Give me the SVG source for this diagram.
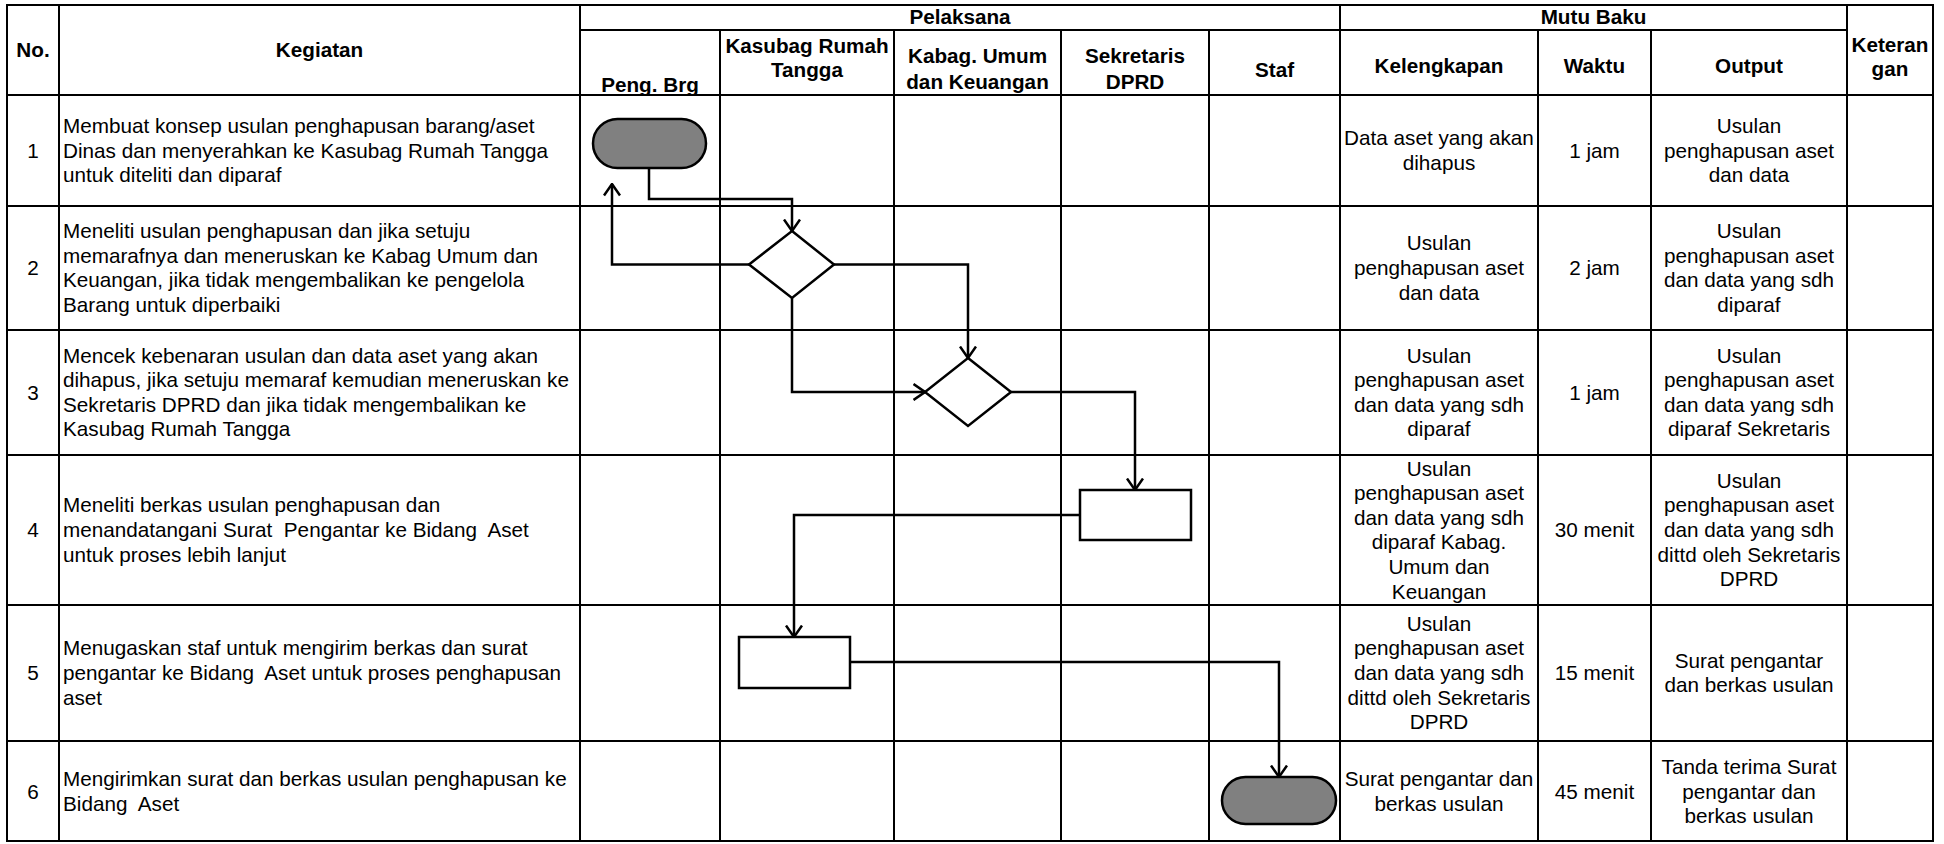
<svg xmlns="http://www.w3.org/2000/svg" width="1944" height="844" viewBox="0 0 1944 844">
<style>
  text { font-family: "Liberation Sans", Arial, sans-serif; font-size: 20.7px; fill: #000; }
  .h { font-weight: bold; text-anchor: middle; }
  .c { text-anchor: middle; }
  .grid { stroke: #000; stroke-width: 2; fill: none; }
  .conn { stroke: #000; stroke-width: 2.5; fill: none; }
  .term { fill: #808080; stroke: #000; stroke-width: 2.5; }
  .proc { fill: #fff; stroke: #000; stroke-width: 2.5; }
</style>
<defs>
  <marker id="arr" viewBox="0 0 14 18" refX="12.5" refY="9" markerWidth="14" markerHeight="18" markerUnits="userSpaceOnUse" orient="auto">
    <path d="M1,1 L12.5,9 L1,17" fill="none" stroke="#000" stroke-width="2.5"/>
  </marker>
</defs>
<rect width="1944" height="844" fill="#fff"/>

<g id="table">
  <rect class="grid" x="7" y="5" width="1926" height="836" stroke-width="2.5"/>
  <path class="grid" d="M59,5 V841 M580,5 V841 M1340,5 V841 M1847,5 V841
    M720,30 V841 M894,30 V841 M1061,30 V841 M1209,30 V841 M1538,30 V841 M1651,30 V841
    M580,30 H1847
    M7,95 H1933 M7,206 H1933 M7,330 H1933 M7,455 H1933 M7,605 H1933 M7,741 H1933"/>
</g>

<g id="header">
  <text class="h" x="33" y="57">No.</text>
  <text class="h" x="319.5" y="57">Kegiatan</text>
  <text class="h" x="960" y="24">Pelaksana</text>
  <text class="h" x="1593.5" y="24">Mutu Baku</text>
  <text class="h" x="650" y="92">Peng. Brg</text>
  <text class="h" x="807" y="53">Kasubag Rumah</text>
  <text class="h" x="807" y="77">Tangga</text>
  <text class="h" x="977.5" y="63">Kabag. Umum</text>
  <text class="h" x="977.5" y="89">dan Keuangan</text>
  <text class="h" x="1135" y="63">Sekretaris</text>
  <text class="h" x="1135" y="89">DPRD</text>
  <text class="h" x="1274.5" y="77">Staf</text>
  <text class="h" x="1439" y="73">Kelengkapan</text>
  <text class="h" x="1594.5" y="73">Waktu</text>
  <text class="h" x="1749" y="73">Output</text>
  <text class="h" x="1890" y="52">Keteran</text>
  <text class="h" x="1890" y="76">gan</text>
</g>

<g id="row1">
  <text class="c" x="33" y="157.5">1</text>
  <text x="63" y="133">Membuat konsep usulan penghapusan barang/aset</text>
  <text x="63" y="158">Dinas dan menyerahkan ke Kasubag Rumah Tangga</text>
  <text x="63" y="182">untuk diteliti dan diparaf</text>
  <text class="c" x="1439" y="145">Data aset yang akan</text>
  <text class="c" x="1439" y="170">dihapus</text>
  <text class="c" x="1594.5" y="157.5">1 jam</text>
  <text class="c" x="1749" y="133">Usulan</text>
  <text class="c" x="1749" y="158">penghapusan aset</text>
  <text class="c" x="1749" y="182">dan data</text>
</g>

<g id="row2">
  <text class="c" x="33" y="275">2</text>
  <text x="63" y="238">Meneliti usulan penghapusan dan jika setuju</text>
  <text x="63" y="263">memarafnya dan meneruskan ke Kabag Umum dan</text>
  <text x="63" y="287">Keuangan, jika tidak mengembalikan ke pengelola</text>
  <text x="63" y="312">Barang untuk diperbaiki</text>
  <text class="c" x="1439" y="250">Usulan</text>
  <text class="c" x="1439" y="275">penghapusan aset</text>
  <text class="c" x="1439" y="300">dan data</text>
  <text class="c" x="1594.5" y="275">2 jam</text>
  <text class="c" x="1749" y="238">Usulan</text>
  <text class="c" x="1749" y="263">penghapusan aset</text>
  <text class="c" x="1749" y="287">dan data yang sdh</text>
  <text class="c" x="1749" y="312">diparaf</text>
</g>

<g id="row3">
  <text class="c" x="33" y="399.5">3</text>
  <text x="63" y="362.6">Mencek kebenaran usulan dan data aset yang akan</text>
  <text x="63" y="387.2">dihapus, jika setuju memaraf kemudian meneruskan ke</text>
  <text x="63" y="411.8">Sekretaris DPRD dan jika tidak mengembalikan ke</text>
  <text x="63" y="436.4">Kasubag Rumah Tangga</text>
  <text class="c" x="1439" y="362.6">Usulan</text>
  <text class="c" x="1439" y="387.2">penghapusan aset</text>
  <text class="c" x="1439" y="411.8">dan data yang sdh</text>
  <text class="c" x="1439" y="436.4">diparaf</text>
  <text class="c" x="1594.5" y="399.5">1 jam</text>
  <text class="c" x="1749" y="362.6">Usulan</text>
  <text class="c" x="1749" y="387.2">penghapusan aset</text>
  <text class="c" x="1749" y="411.8">dan data yang sdh</text>
  <text class="c" x="1749" y="436.4">diparaf Sekretaris</text>
</g>

<g id="row4">
  <text class="c" x="33" y="537">4</text>
  <text x="63" y="512.4">Meneliti berkas usulan penghapusan dan</text>
  <text x="63" y="537" xml:space="preserve">menandatangani Surat  Pengantar ke Bidang  Aset</text>
  <text x="63" y="561.6">untuk proses lebih lanjut</text>
  <text class="c" x="1439" y="475.5">Usulan</text>
  <text class="c" x="1439" y="500.1">penghapusan aset</text>
  <text class="c" x="1439" y="524.7">dan data yang sdh</text>
  <text class="c" x="1439" y="549.3">diparaf Kabag.</text>
  <text class="c" x="1439" y="573.9">Umum dan</text>
  <text class="c" x="1439" y="598.5">Keuangan</text>
  <text class="c" x="1594.5" y="537">30 menit</text>
  <text class="c" x="1749" y="487.8">Usulan</text>
  <text class="c" x="1749" y="512.4">penghapusan aset</text>
  <text class="c" x="1749" y="537">dan data yang sdh</text>
  <text class="c" x="1749" y="561.6">dittd oleh Sekretaris</text>
  <text class="c" x="1749" y="586.2">DPRD</text>
</g>

<g id="row5">
  <text class="c" x="33" y="680">5</text>
  <text x="63" y="655.4">Menugaskan staf untuk mengirim berkas dan surat</text>
  <text x="63" y="680" xml:space="preserve">pengantar ke Bidang  Aset untuk proses penghapusan</text>
  <text x="63" y="704.6">aset</text>
  <text class="c" x="1439" y="630.8">Usulan</text>
  <text class="c" x="1439" y="655.4">penghapusan aset</text>
  <text class="c" x="1439" y="680">dan data yang sdh</text>
  <text class="c" x="1439" y="704.6">dittd oleh Sekretaris</text>
  <text class="c" x="1439" y="729.2">DPRD</text>
  <text class="c" x="1594.5" y="680">15 menit</text>
  <text class="c" x="1749" y="667.7">Surat pengantar</text>
  <text class="c" x="1749" y="692.3">dan berkas usulan</text>
</g>

<g id="row6">
  <text class="c" x="33" y="798.5">6</text>
  <text x="63" y="786.2">Mengirimkan surat dan berkas usulan penghapusan ke</text>
  <text x="63" y="810.8" xml:space="preserve">Bidang  Aset</text>
  <text class="c" x="1439" y="786.2">Surat pengantar dan</text>
  <text class="c" x="1439" y="810.8">berkas usulan</text>
  <text class="c" x="1594.5" y="798.5">45 menit</text>
  <text class="c" x="1749" y="773.9">Tanda terima Surat</text>
  <text class="c" x="1749" y="798.5">pengantar dan</text>
  <text class="c" x="1749" y="823.1">berkas usulan</text>
</g>

<g id="connectors">
  <path class="conn" d="M649,168 V199 H792 V231" marker-end="url(#arr)"/>
  <path class="conn" d="M749,264.5 H612 V184" marker-end="url(#arr)"/>
  <path class="conn" d="M834,264.5 H968 V358" marker-end="url(#arr)"/>
  <path class="conn" d="M792,298 V392 H925" marker-end="url(#arr)"/>
  <path class="conn" d="M1011,392 H1135 V490" marker-end="url(#arr)"/>
  <path class="conn" d="M1080,515 H794 V637" marker-end="url(#arr)"/>
  <path class="conn" d="M850,662 H1279 V777" marker-end="url(#arr)"/>
</g>

<g id="start">
  <rect class="term" x="593" y="119" width="113" height="49" rx="24.5" ry="24.5"/>
</g>
<g id="decision1">
  <polygon class="proc" points="792,231 834,264.5 792,298 749,264.5"/>
</g>
<g id="decision2">
  <polygon class="proc" points="968,358 1011,392 968,426 925,392"/>
</g>
<g id="process1">
  <rect class="proc" x="1080" y="490" width="111" height="50"/>
</g>
<g id="process2">
  <rect class="proc" x="739" y="637" width="111" height="51"/>
</g>
<g id="end">
  <rect class="term" x="1222" y="777" width="114" height="47" rx="23.5" ry="23.5"/>
</g>
</svg>
